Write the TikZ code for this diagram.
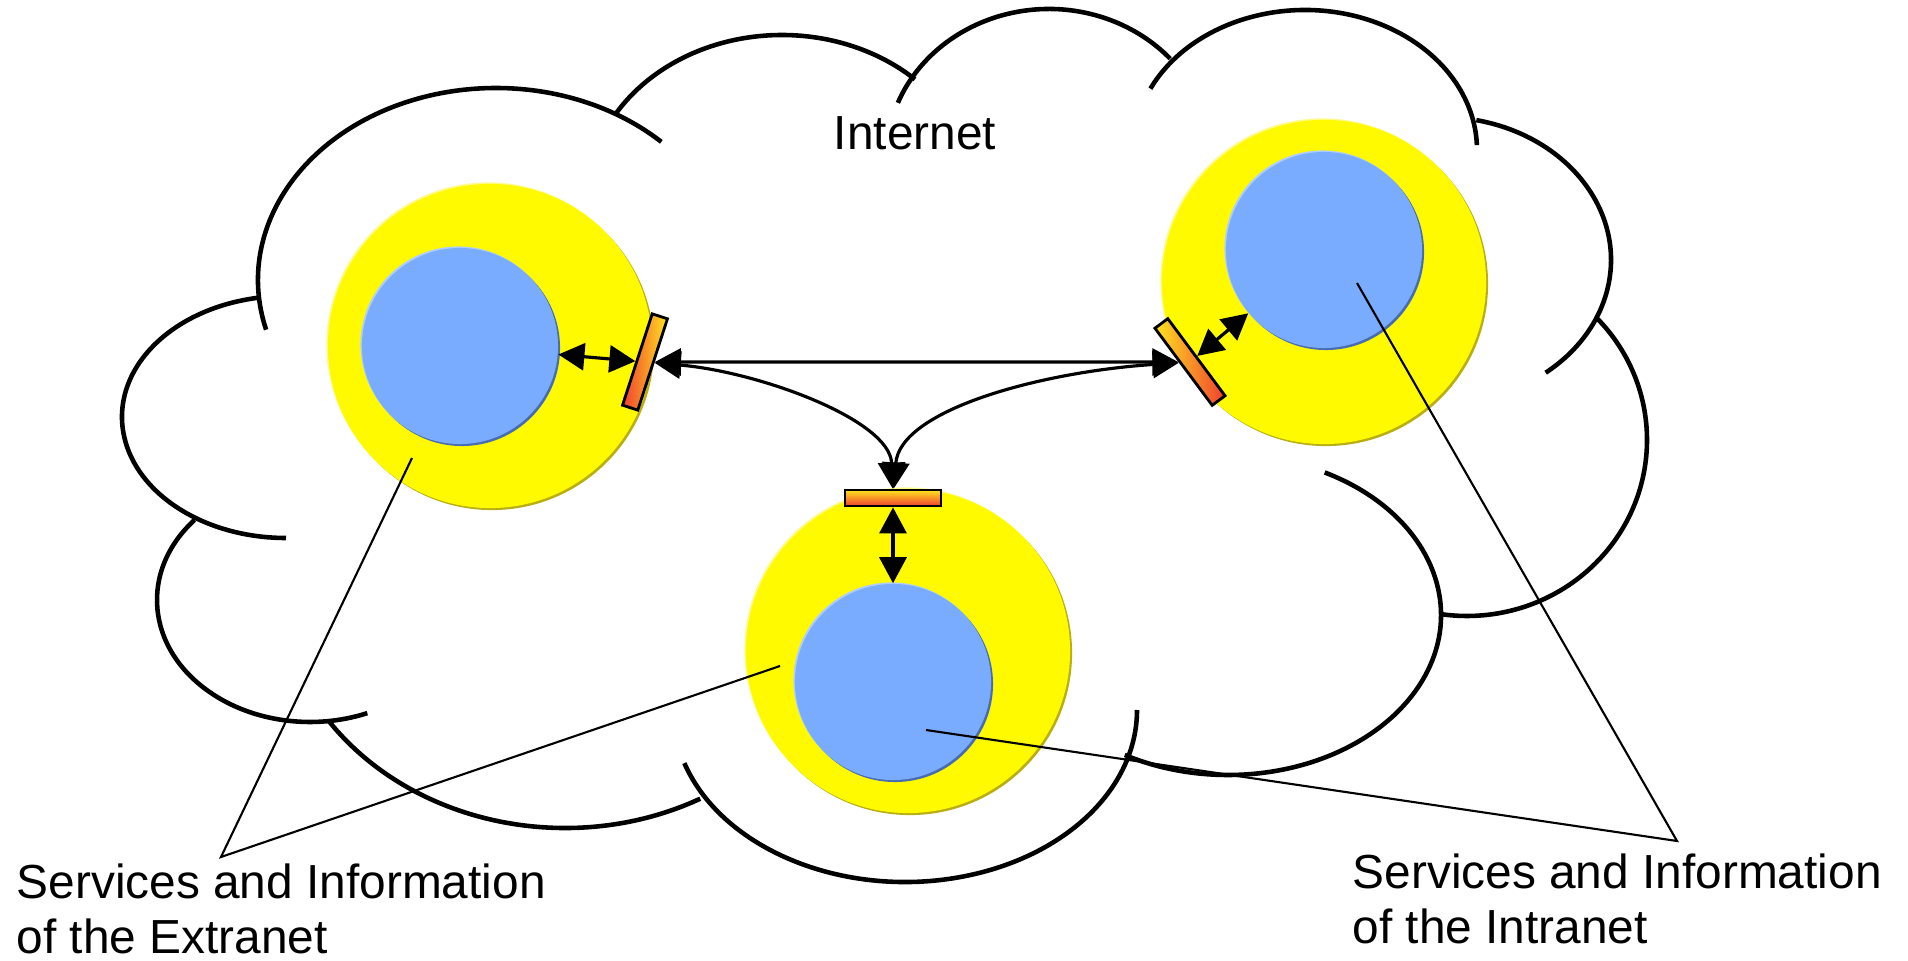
\documentclass[tikz,border=0pt]{standalone}
\usepackage{fontspec}
\setmainfont{Liberation Sans}
\usepackage{tikz}
\usetikzlibrary{arrows.meta,positioning,calc}

\definecolor{ringyellow}{RGB}{255,250,0}
\definecolor{ringshade}{RGB}{185,175,20}
\definecolor{ringlight}{RGB}{255,250,140}
\definecolor{coreblue}{RGB}{121,172,255}
\definecolor{coreshade}{RGB}{72,108,178}
\definecolor{corelight}{RGB}{175,205,255}
\definecolor{baryellow}{RGB}{255,228,30}
\definecolor{barred}{RGB}{240,64,48}

\tikzset{
  cloudline/.style={line width=1.3pt},
  ring/.style={circle, fill=ringyellow, minimum size=3.24cm, inner sep=0pt},
  core/.style={circle, fill=coreblue, minimum size=1.96cm, inner sep=0pt},
  fwall/.style={rectangle, draw=black, line width=0.8pt, inner sep=0pt,
    minimum width=0.96cm, minimum height=0.16cm},
  link/.style={{Triangle[length=0.26cm,width=0.27cm]}-{Triangle[length=0.26cm,width=0.27cm]},
    line width=0.9pt},
  leader/.style={line width=0.6pt},
  lbl/.style={font=\fontsize{13.6}{15.6}\selectfont, inner sep=0pt}
}

\begin{document}
\begin{tikzpicture}[x=0.01cm, y=-0.01cm]
    \useasboundingbox (0,0) rectangle (1908,961);

    % Cloud (Internet), one arc per lobe
    \foreach \cx/\cy/\rx/\ry/\a/\b in {496/280/238/192/165/314, 782/200/195/165/211/313,
        1049/159/163/150/202/318, 1305/150/172/140/206/358, 1441/260/170/143/-78/52,
        1467/440/180/176/-44/98, 1228/615/213/160/-63/119, 905/710/232/172/162/0,
        565/578/288/250/145/62, 310/600/153/122/221/68, 286/417/164/121/261/90} {
        \draw[cloudline] ({\cx+\rx*cos(\a)},{\cy+\ry*sin(\a)})
            arc[start angle=\a, end angle=\b, x radius=\rx, y radius=\ry];
    }

    % Networks: outer ring and inner core
    \foreach \gx/\gy/\cx/\cy/\g in {490/346/460/346/l, 1324/282/1324/250/r, 908/651/893/682/b} {
        \fill[ringshade] (\gx+2,\gy+2) circle (1.62cm);
        \fill[ringlight] (\gx-1.5,\gy-1.5) circle (1.62cm);
        \node[ring] (\g ring) at (\gx,\gy) {};
        \fill[coreshade] (\cx+2,\cy+2) circle (0.98cm);
        \fill[corelight] (\cx-1.5,\cy-1.5) circle (0.98cm);
        \node[core] (\g core) at (\cx,\cy) {};
    }

    % Firewalls
    \node[fwall, left color=barred, right color=baryellow, rotate=72] (lwall) at (645,362) {};
    \node[fwall, left color=baryellow, right color=barred, rotate=-53.4] (rwall) at (1190,362) {};
    \node[fwall, top color=baryellow, bottom color=barred] (bwall) at (893,498) {};

    % Links
    \draw[link] (lcore) -- (lwall);
    \draw[link] (rwall) -- (rcore);
    \draw[link] (bwall) -- (bcore);
    \draw[link] (lwall) -- (rwall);
    \draw[link] (lwall) .. controls (760,372) and (890,420) .. (bwall);
    \draw[link] (rwall) .. controls (1040,372) and (900,410) .. (bwall);

    % Labels
    \node[lbl, anchor=base] (inet) at (915,150) {Internet};
    \node[lbl, anchor=north west, align=left] (extlbl) at (16,863)
        {Services and Information\\of the Extranet};
    \node[lbl, anchor=north west, align=left] (intlbl) at (1352,853)
        {Services and Information\\of the Intranet};

    \coordinate (extapex) at (221,857);
    \coordinate (intapex) at (1677,841);
    \coordinate (lringpt) at (412,458);
    \coordinate (bringpt) at (780,666);
    \coordinate (rcorept) at (1357,283);
    \coordinate (bcorept) at (926,730);
    \draw[leader] (lringpt) -- (extapex) -- (bringpt);
    \draw[leader] (rcorept) -- (intapex) -- (bcorept);
\end{tikzpicture}
\end{document}
